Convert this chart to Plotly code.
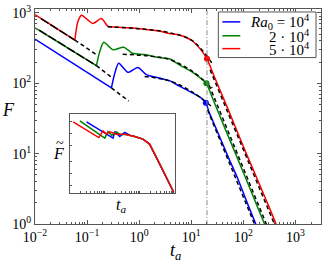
import plotly.graph_objects as go

# ---------------- data ----------------
# early decay (straight) segments: start and minimum before the jump
blue_t0, blue_F0 = [0.01, 0.293], [426, 86]
green_t0, green_F0 = [0.01, 0.151], [615, 178]
red_t0, red_F0 = [0.01, 0.0582], [946, 412]

# from the minimum onwards
blue_t = [0.293, 0.339, 0.404, 0.608, 0.944, 1.37, 2.45, 3.81, 5.92, 10.5, 15.4, 19.0, 22.2, 29.8, 50, 77, 120, 173, 190]
blue_F = [86, 138, 193, 143, 168, 133, 119, 109, 91, 73, 62, 53, 38, 23, 9.3, 4.5, 1.95, 1.0, 0.85]

green_t = [0.151, 0.175, 0.209, 0.314, 0.503, 0.748, 1.27, 2.45, 3.81, 5.92, 10.5, 16.3, 19.5, 24.6, 45.6, 100, 181, 255, 280]
green_F = [178, 282, 382, 299, 325, 267, 256, 232, 223, 183, 144, 113, 100, 66, 21.8, 5.4, 1.85, 1.0, 0.85]

red_t = [0.0582, 0.0664, 0.0782, 0.1285, 0.188, 0.249, 0.339, 0.655, 1.27, 2.45, 3.81, 5.92, 10.5, 16.3, 20.0, 28, 50, 76, 110, 161, 269, 418, 450]
red_F = [412, 747, 929, 707, 832, 650, 630, 615, 586, 552, 511, 485, 399, 282, 223, 122, 44, 20.7, 10.6, 5.5, 2.25, 1.02, 0.85]

# early-time power-law fits (black dashed)
fit0_blue_t, fit0_blue_F = [0.293, 0.63], [86, 56]
fit0_green_t, fit0_green_F = [0.012, 0.151, 0.31], [570, 178, 118]
fit0_red_t, fit0_red_F = [0.013, 0.0582, 0.153], [830, 412, 253]

# plateau fits
fitp_blue_t, fitp_blue_F = [1.27, 3.81, 10.5, 23.9], [125, 108, 75, 47.4]
fitp_green_t, fitp_green_F = [0.482, 1.58, 3.81, 10.5, 25.3], [259, 244, 218, 148, 86]
fitp_red_t, fitp_red_F = [0.249, 1.02, 3.81, 10.5, 25.3], [635, 595, 523, 403, 191]

# late-time fits
fitl_blue_t, fitl_blue_F = [20.5, 168], [42, 0.95]
fitl_green_t, fitl_green_F = [22, 280], [94, 0.97]
fitl_red_t, fitl_red_F = [23, 405], [155, 0.95]

# markers at t_a ~ 20
mark_t = [19.0, 19.5, 20.0]
mark_F = [53, 100, 223]

t_star = 20

# inset (rescaled) curves
in_red_t = [0.124, 0.674, 0.893, 1.12, 1.39, 2.16, 3.72, 7.19, 12.4, 19.3, 37.2, 95.5]
in_red_F = [2.0, 0.807, 1.19, 0.982, 1.12, 0.982, 0.97, 0.855, 0.736, 0.552, 0.178, 0.0331]
in_green_t = [0.193, 1.0, 1.24, 1.58, 2.16, 2.86, 3.72, 7.19, 12.4, 19.3, 37.2, 95.5]
in_green_F = [2.11, 0.78, 1.14, 0.916, 1.12, 0.944, 0.97, 0.855, 0.736, 0.552, 0.178, 0.0331]
in_blue_t = [0.3, 1.73, 1.93, 2.69, 3.72, 5.18, 7.19, 12.4, 19.3, 37.2, 95.5]
in_blue_F = [2.0, 0.78, 1.14, 0.855, 1.08, 0.927, 0.855, 0.736, 0.552, 0.178, 0.0331]

x_tickvals = [1e-2, 1e-1, 1e0, 1e1, 1e2, 1e3]
x_ticktext = ["10<sup>−2</sup>", "10<sup>−1</sup>", "10<sup>0</sup>", "10<sup>1</sup>", "10<sup>2</sup>", "10<sup>3</sup>"]
y_tickvals = [1, 10, 100, 1000]
y_ticktext = ["10<sup>0</sup>", "10<sup>1</sup>", "10<sup>2</sup>", "10<sup>3</sup>"]

legend_labels = ["<i>Ra</i><sub>0</sub> = 10<sup>4</sup>", "2 · 10<sup>4</sup>", "5 · 10<sup>4</sup>"]

# ---------------- styling ----------------
BLUE, GREEN, RED = "#0000ff", "#008000", "#ff0000"
FONT = "Liberation Serif"
W, H = 325, 263
L, R, T, B = 35, 3, 7, 39
PW, PH = W - L - R, H - T - B


def px(x):
    return (x - L) / PW


def py(y):
    return (H - B - y) / PH


def minor_vals(lo, hi):
    out = []
    for k in range(lo, hi + 1):
        for m in range(2, 10):
            out.append(m * 10 ** k)
    return out


fig = go.Figure()

for (t0, F0, t, F, c) in [(blue_t0, blue_F0, blue_t, blue_F, BLUE),
                          (green_t0, green_F0, green_t, green_F, GREEN),
                          (red_t0, red_F0, red_t, red_F, RED)]:
    fig.add_trace(go.Scatter(x=t0, y=F0, mode="lines", line=dict(color=c, width=1.5), showlegend=False))
    fig.add_trace(go.Scatter(x=t, y=F, mode="lines", line=dict(color=c, width=1.5, shape="spline", smoothing=0.7),
                             showlegend=False))

for t, F in [(fit0_green_t, fit0_green_F), (fit0_red_t, fit0_red_F)]:
    fig.add_trace(go.Scatter(x=t[:2], y=F[:2], mode="lines", line=dict(color="black", width=1.5, dash="9px,2px"), showlegend=False))
    fig.add_trace(go.Scatter(x=t[1:], y=F[1:], mode="lines", line=dict(color="black", width=1.5, dash="4px,3px"), showlegend=False))
fig.add_trace(go.Scatter(x=fit0_blue_t, y=fit0_blue_F, mode="lines", line=dict(color="black", width=1.5, dash="4px,3px"), showlegend=False))

for t, F in [(fitp_blue_t, fitp_blue_F), (fitp_green_t, fitp_green_F), (fitp_red_t, fitp_red_F)]:
    fig.add_trace(go.Scatter(x=t, y=F, mode="lines", line=dict(color="black", width=1.5, dash="4px,3px", shape="spline"), showlegend=False))
for t, F in [(fitl_blue_t, fitl_blue_F), (fitl_green_t, fitl_green_F), (fitl_red_t, fitl_red_F)]:
    fig.add_trace(go.Scatter(x=t, y=F, mode="lines", line=dict(color="black", width=1.5, dash="4px,3px"), showlegend=False))

fig.add_trace(go.Scatter(x=mark_t, y=mark_F, mode="markers",
                         marker=dict(color=[BLUE, GREEN, RED], size=6), showlegend=False))

fig.add_trace(go.Scatter(x=[t_star, t_star], y=[0.5, 3000], mode="lines",
                         line=dict(color="#888888", width=1, dash="5px,2px,1px,2px"), showlegend=False))

# inset
for t, F, c in [(in_blue_t, in_blue_F, BLUE), (in_green_t, in_green_F, GREEN), (in_red_t, in_red_F, RED)]:
    fig.add_trace(go.Scatter(x=t, y=F, mode="lines", line=dict(color=c, width=1.5),
                             xaxis="x2", yaxis="y2", showlegend=False))

axis_common = dict(type="log", showgrid=False, zeroline=False, showline=True, linecolor="#555555", linewidth=1,
                   mirror="allticks", ticks="inside", ticklen=4, tickcolor="#555555",
                   tickfont=dict(family=FONT, size=14, color="black"))

fig.update_layout(
    width=W, height=H,
    margin=dict(l=L, r=R, t=T, b=B),
    paper_bgcolor="white", plot_bgcolor="white",
    showlegend=False,
    xaxis=dict(range=[-2, 3.49], tickvals=x_tickvals, ticktext=x_ticktext,
               minor=dict(ticks="inside", ticklen=2, tickcolor="#555555", tickvals=minor_vals(-2, 3)),
               **axis_common),
    yaxis=dict(range=[0, 3.056], tickvals=y_tickvals, ticktext=y_ticktext,
               minor=dict(ticks="inside", ticklen=2, tickcolor="#555555", tickvals=minor_vals(0, 3)),
               **axis_common),
    xaxis2=dict(domain=[px(70), px(175)], anchor="y2", type="log", range=[-1, 2],
                showgrid=False, zeroline=False, showline=True, linecolor="#555555", mirror=True,
                ticks="inside", ticklen=2, tickcolor="#555555", showticklabels=False,
                tickvals=minor_vals(-1, 1) + [0.1, 1, 10, 100]),
    yaxis2=dict(domain=[py(193), py(113)], anchor="x2", type="log", range=[-1.5, 0.5],
                showgrid=False, zeroline=False, showline=True, linecolor="#555555", mirror=True,
                ticks="inside", ticklen=2, tickcolor="#555555", showticklabels=False,
                tickvals=[0.05, 0.1, 0.2, 0.5, 1, 2]),
)


def label(text, x, y, size, xanchor="center"):
    return dict(text=text, x=px(x), y=py(y), xref="paper", yref="paper", showarrow=False,
                xanchor=xanchor, yanchor="middle", font=dict(family=FONT, size=size, color="black"))


ann = [
    label("<i>F</i>", 8, 109, 18),
    label("<i>t<sub>a</sub></i>", 176, 252, 18),
    label("<i>F</i>", 59, 153, 16),
    label("~", 60, 143, 14),
    label("<i>t<sub>a</sub></i>", 121, 205, 16),
]

shapes = [dict(type="rect", xref="paper", yref="paper", x0=px(219), x1=px(317), y0=py(56), y1=py(10),
               line=dict(color="#555555", width=1), fillcolor="white", layer="above")]
for i, (lab, c) in enumerate(zip(legend_labels, [BLUE, GREEN, RED])):
    yy = [20, 34, 47][i]
    shapes.append(dict(type="line", xref="paper", yref="paper", x0=px(223), x1=px(241), y0=py(yy), y1=py(yy),
                       line=dict(color=c, width=1.5), layer="above"))
    ann.append(label(lab, 313, yy, 15, xanchor="right"))

fig.update_layout(annotations=ann, shapes=shapes)
fig.write_html("out.html", config={"displayModeBar": False},
               post_script="document.body.style.margin='0px';")
